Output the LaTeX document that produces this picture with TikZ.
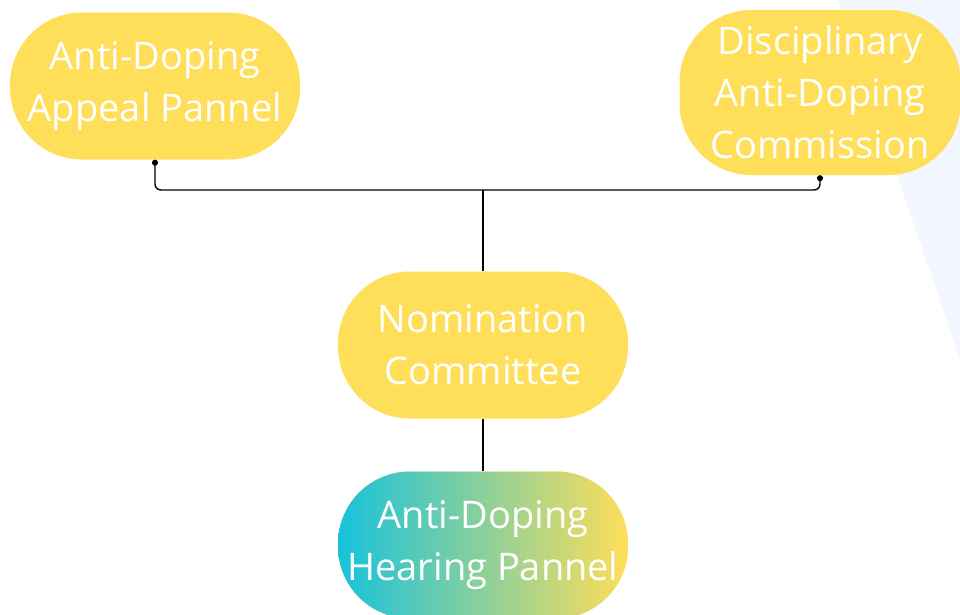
\documentclass[tikz,border=0pt]{standalone}
\usepackage{fontspec}
\setmainfont{Open Sans}
\usetikzlibrary{arrows.meta}
\definecolor{boxyellow}{HTML}{FFDE59}
\definecolor{boxcyan}{HTML}{17C2DC}
\definecolor{paleblue}{HTML}{F2F6FE}

\begin{document}
\begin{tikzpicture}[x=1pt,y=-1pt,
  body/.style={rectangle, rounded corners=72pt, fill=boxyellow, text=white,
    align=center, font=\fontsize{38}{52}\selectfont,
    minimum width=290pt, minimum height=147pt, inner sep=0pt},
  link/.style={line width=1.4pt, black}]
\useasboundingbox (0,0) rectangle (960,614);
\fill[paleblue] (838,0) -- (960,0) -- (960,360) -- cycle;

\node[body] (appeal) at (155,86) {Anti-Doping\\Appeal Pannel};
\node[body, minimum width=281pt, minimum height=165pt] (commission) at (820,92.5)
  {Disciplinary\\Anti-Doping\\Commission};
\node[body] (nomination) at (483,345) {Nomination\\Committee};
\node[body, left color=boxcyan, right color=boxyellow] (hearing) at (483,545)
  {Anti-Doping\\Hearing Pannel};

\coordinate (bus) at (483,190);
\draw[link, {Circle[length=6pt]}-{Circle[length=6pt]}, rounded corners=6pt]
  (appeal.south) |- (bus) -| (commission.south);
\draw[link] (nomination.north) -- (bus);
\draw[link] (nomination) -- (hearing);

\end{tikzpicture}
\end{document}
